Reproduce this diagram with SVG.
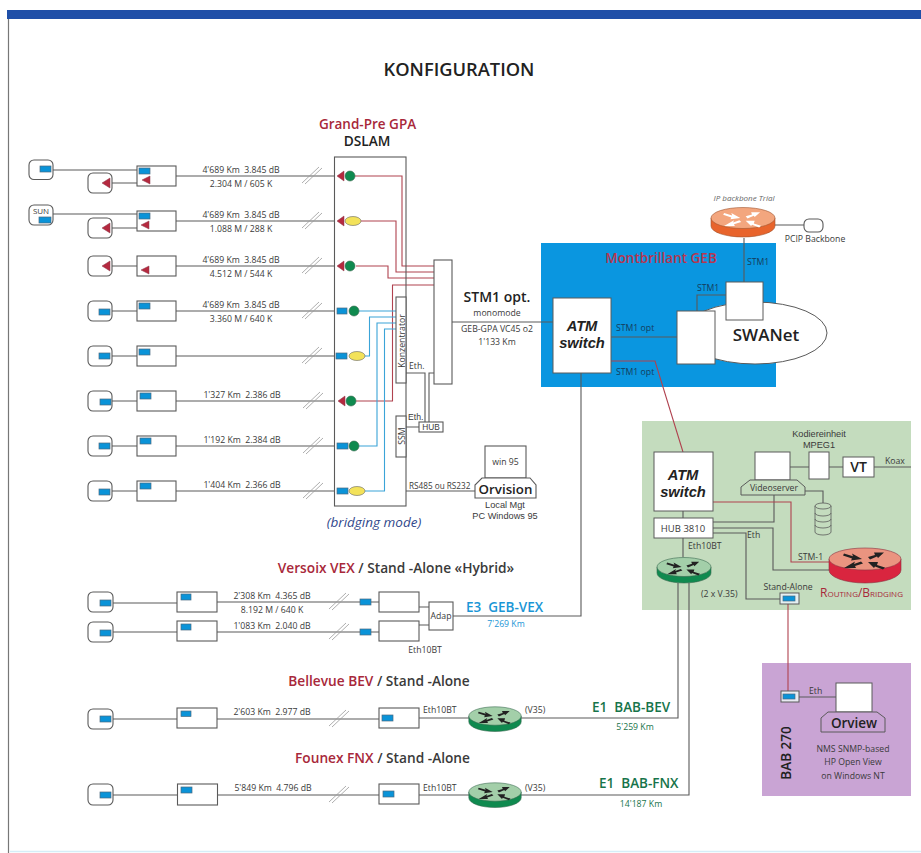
<svg xmlns="http://www.w3.org/2000/svg" width="921" height="853" viewBox="0 0 921 853">
<style>
text{font-family:"Open Sans","Noto Sans","Liberation Sans",sans-serif;fill:#3a3a3a;white-space:pre}
text.ls{font-family:"Liberation Sans",Arial,sans-serif}
.s{font-size:8.700px}
.m{text-anchor:middle}
.h{font-size:13.700px;font-weight:600}
.red{fill:#a8283a}
.b{fill:#fff;stroke:#5a5a5a;stroke-width:1.100}
.t{fill:#fff;stroke:#5a5a5a;stroke-width:1.100}
.bl{fill:#0a93d8;stroke:#4a6a80;stroke-width:.7}
.tri{fill:#b5293f;stroke:#8a3a4a;stroke-width:.5}
.gc{fill:#0f8a4f;stroke:#3a6a50;stroke-width:.6}
.ye{fill:#f3e25a;stroke:#666;stroke-width:.6}
.c{fill:none;stroke:#5a5a5a;stroke-width:1.100}
.cr{fill:none;stroke:#b0424f;stroke-width:1.100}
.cb{fill:none;stroke:#3aa4d8;stroke-width:1.100}
.sl{fill:none;stroke:#999;stroke-width:.8}
.atm{font-size:14.700px;font-weight:700;font-style:italic;fill:#222;text-anchor:middle}
</style>
<defs>
<g id="slash"><path class="sl" d="M0 7L17-9M3 8L20-8"/></g>
<g id="arrows"><path d="M-21-5.500L-12-2.800L-13-5.500L-3 0L-14 1.500L-13-.5L-22-3.500ZM3-2L10-4L9-6.500L19-6.500L13-1L12-2.500L5 .5ZM-4 2.500L-11 5L-10 2.500L-21 9L-9 9L-10 7L-2 4.500ZM20 8.500L12 6L13 3L3 3L9 9L10 7.500L18 10.500Z"/></g>
<g id="routerG"><path d="M-27 0V6A27 10 0 0 0 27 6V0Z" fill="#0f8a4f" stroke="#3a6a50" stroke-width=".6"/><ellipse rx="27" ry="9.500" fill="#a3cfa9" stroke="#3a6a50" stroke-width=".6"/><use href="#arrows" transform="scale(.8)" fill="#222"/></g>
</defs>

<g id="frame">
<rect x="7" y="10" width="914" height="9" fill="#1f4fa8"/>
<path d="M8.500 19V853" stroke="#777" stroke-width="1.200" fill="none"/>
<path d="M10 851.500H921" stroke="#d5eef8" stroke-width="1.500" fill="none"/>
</g>

<g id="panels">
<rect id="panel-geb" x="541" y="243" width="235" height="144" fill="#0a96e0"/>
<rect id="panel-green" x="642" y="421" width="269" height="189" fill="#c4dcbe"/>
<rect id="panel-bab" x="762" y="663" width="149" height="133" fill="#c9a4d4"/>
</g>

<g id="connectors">
<path class="c" d="M53 170H137M112 183H137M176 176H335"/>
<path class="c" d="M53 214H137M112 228H137M176 221H335"/>
<path class="c" d="M112 266H137M176 266H335"/>
<path class="c" d="M112 311H137M176 311H335"/>
<path class="c" d="M112 356H137M176 356H335"/>
<path class="c" d="M112 401H137M176 401H335"/>
<path class="c" d="M112 446H137M176 446H335"/>
<path class="c" d="M112 491H137M176 491H335"/>
<path class="cr" d="M355 176H402V266H434M361 221H396V272H434M356 266H388V278H434M356 401H392.500V285H434"/>
<path class="cb" d="M359 311H396M365 356H369.500V317H396M359 446H377V323H396M365 491H384.500V329H396"/>
<path class="c" d="M406 373H425V422M429 422V373H434M406 427H419M406 491H475M452 322H553"/>
<path class="c" d="M611 337H677M697 311V295H726M744 238V282M775 225H804"/>
<path class="c" d="M581 373V616H453M419 607H429M419 625H429"/>
<path class="cr" d="M611 361H655L683 452"/>
<path class="c" d="M683 511V518M683 538V557M790 467H809M829 467H843M874 467H911M805 491H823V503M774 495V522H713M713 528H773V570H829M713 533H746V599H780"/>
<path class="cr" d="M713 502H791V562H830"/>
<path class="cr" d="M788 604V691" stroke-width="1.300"/>
<path class="c" d="M799 697H836"/>
<path class="c" d="M678 583V718H521M689 583V795H521"/>
<path class="c" d="M113 603H177M217 602H360M371 602H379"/>
<path class="c" d="M113 632H177M217 632H360M371 632H379"/>
<path class="c" d="M113 719H177M217 719H379M419 718H469"/>
<path class="c" d="M113 795H177M217 795H379M419 795H469"/>
<use href="#slash" x="302" y="176"/><use href="#slash" x="302" y="221"/><use href="#slash" x="302" y="266"/><use href="#slash" x="302" y="311"/><use href="#slash" x="302" y="356"/><use href="#slash" x="303" y="401"/><use href="#slash" x="303" y="446"/><use href="#slash" x="303" y="491"/>
<use href="#slash" x="329" y="602"/><use href="#slash" x="329" y="632"/><use href="#slash" x="329" y="719"/><use href="#slash" x="329" y="795"/>
</g>

<g id="row1-a"><rect class="t" x="29" y="160" width="24" height="19.500" rx="5"/><rect class="bl" x="40" y="166" width="11" height="6"/></g>
<g id="row1-b"><rect class="t" x="88" y="173" width="24" height="20" rx="5"/><path class="tri" d="M102 183L110 178V188Z"/></g>
<g id="row1-box"><rect class="b" x="137" y="166" width="39" height="20"/><rect class="bl" x="139" y="168" width="11" height="6"/><path class="tri" d="M142 180L150 176V184Z"/></g>
<g id="row2-a"><rect class="t" x="29" y="205" width="24" height="20" rx="5"/><text x="41" y="213.500" class="m" style="font-size:8px">SUN</text><rect class="bl" x="39" y="217" width="12" height="6"/></g>
<g id="row2-b"><rect class="t" x="88" y="218" width="24" height="20" rx="5"/><path class="tri" d="M102 228L110 223V233Z"/></g>
<g id="row2-box"><rect class="b" x="137" y="211" width="39" height="20"/><rect class="bl" x="139" y="213" width="11" height="6"/><path class="tri" d="M141 225L149 221V229Z"/></g>
<g id="row3-b"><rect class="t" x="88" y="256" width="24" height="20" rx="5"/><path class="tri" d="M102 266L110 261V271Z"/></g>
<g id="row3-box"><rect class="b" x="137" y="256" width="39" height="20"/><path class="tri" d="M141 270L149 266V274Z"/></g>
<g id="row4-b"><rect class="t" x="88" y="301" width="24" height="20" rx="5"/><rect class="bl" x="99" y="309" width="11" height="6"/></g>
<g id="row4-box"><rect class="b" x="137" y="301" width="39" height="20"/><rect class="bl" x="139" y="303" width="11" height="6"/></g>
<g id="row5-b"><rect class="t" x="88" y="346" width="24" height="20" rx="5"/><rect class="bl" x="99" y="353" width="11" height="6"/></g>
<g id="row5-box"><rect class="b" x="137" y="346" width="39" height="20"/><rect class="bl" x="139" y="349" width="11" height="6"/></g>
<g id="row6-b"><rect class="t" x="88" y="391" width="24" height="20" rx="5"/><rect class="bl" x="100" y="399" width="11" height="6"/></g>
<g id="row6-box"><rect class="b" x="137" y="391" width="39" height="20"/><rect class="bl" x="140" y="393" width="11" height="6"/></g>
<g id="row7-b"><rect class="t" x="88" y="436" width="24" height="20" rx="5"/><rect class="bl" x="99" y="443" width="11" height="6"/></g>
<g id="row7-box"><rect class="b" x="137" y="436" width="39" height="20"/><rect class="bl" x="140" y="438" width="11" height="6"/></g>
<g id="row8-b"><rect class="t" x="88" y="481" width="24" height="20" rx="5"/><rect class="bl" x="99" y="489" width="11" height="6"/></g>
<g id="row8-box"><rect class="b" x="137" y="481" width="39" height="20"/><rect class="bl" x="140" y="483" width="11" height="6"/></g>

<g id="dslam">
<rect x="334.500" y="157" width="71.500" height="349" fill="none" stroke="#5a5a5a" stroke-width="1.100"/>
<path class="tri" d="M337 176L344 171V181Z"/><circle class="gc" cx="350" cy="176" r="5"/>
<path class="tri" d="M337 221L344 216V226Z"/><ellipse class="ye" cx="353" cy="221" rx="8" ry="4.500"/>
<path class="tri" d="M337 266L344 261V271Z"/><circle class="gc" cx="350" cy="266" r="5"/>
<rect class="bl" x="337" y="308" width="10" height="6"/><circle class="gc" cx="354" cy="311" r="5"/>
<rect class="bl" x="336" y="353" width="11" height="6"/><ellipse class="ye" cx="357" cy="356" rx="8" ry="4.500"/>
<path class="tri" d="M338 401L345 396V406Z"/><circle class="gc" cx="351" cy="401" r="5"/>
<rect class="bl" x="337" y="443" width="11" height="6"/><circle class="gc" cx="354" cy="446" r="5"/>
<rect class="bl" x="337" y="488" width="11" height="6"/><ellipse class="ye" cx="357" cy="491" rx="8" ry="4.500"/>
</g>
<g id="konzentrator"><rect class="b" x="396" y="297" width="10" height="86"/><text class="m" transform="translate(404.500 341) rotate(-90)" style="font-size:8.700px">Konzentrator</text></g>
<g id="ssm"><rect class="b" x="396" y="416" width="10" height="41"/><text class="s m" transform="translate(404.500 436) rotate(-90)">SSM</text></g>
<g id="mux"><rect class="b" x="434" y="260" width="18" height="124"/></g>
<g id="hub"><rect class="b" x="419" y="422" width="24" height="10"/><text class="m ls" x="431" y="430.300" style="font-size:8.300px">HUB</text></g>
<g id="orvision">
<rect class="b" x="485" y="446" width="41" height="32"/>
<text class="s m" x="505.500" y="465">win 95</text>
<path class="b" d="M482 478H530L536 485V498H475V485Z"/>
<text class="m" x="505.500" y="494" style="font-size:13.300px;font-weight:600;fill:#222">Orvision</text>
</g>

<g id="atm1"><rect x="553" y="298" width="58" height="75" fill="#fff" stroke="#5a5a5a"/><text class="atm ls" x="582" y="331">ATM</text><text class="atm ls" x="582" y="348">switch</text></g>
<g id="swanet"><ellipse cx="755" cy="333" rx="72" ry="31" fill="#fff" stroke="#5a5a5a"/><text class="m" x="766" y="341" style="font-size:17px;font-weight:600;fill:#222">SWANet</text></g>
<g id="geb-box1"><rect x="677" y="311" width="38" height="53" fill="#fff" stroke="#5a5a5a"/></g>
<g id="geb-box2"><rect x="726" y="282" width="37" height="38" fill="#fff" stroke="#5a5a5a"/></g>
<g id="router-ip"><path d="M-32 0V8A32 11 0 0 0 32 8V0Z" transform="translate(743 218)" fill="#e8642c" stroke="#a05530" stroke-width=".6"/><ellipse cx="743" cy="218" rx="32" ry="10.500" fill="#f3a67e" stroke="#a05530" stroke-width=".6"/><use href="#arrows" transform="translate(743 218) scale(.9)" fill="#fff"/></g>
<g id="pcip"><rect class="t" x="804" y="219" width="19" height="13" rx="5"/></g>

<g id="atm2"><rect x="654" y="452" width="59" height="59" fill="#fff" stroke="#5a5a5a"/><text class="atm ls" x="683" y="480">ATM</text><text class="atm ls" x="683" y="497">switch</text></g>
<g id="hub3810"><rect x="654" y="518" width="59" height="20" fill="#fff" stroke="#5a5a5a"/><text class="m" x="683" y="532" style="font-size:9.500px">HUB 3810</text></g>
<g id="router-green1"><use href="#routerG" transform="translate(684 567)"/></g>
<g id="videoserver"><rect x="755" y="452" width="35" height="28" fill="#fff" stroke="#5a5a5a"/><path d="M750 480H797L805 487V495H741V487Z" fill="#c4dcbe" stroke="#5a5a5a"/><text class="s m" x="774" y="491">Videoserver</text></g>
<g id="kodier"><rect x="809" y="452" width="20" height="27" fill="#fff" stroke="#5a5a5a"/></g>
<g id="vt"><rect x="843" y="457" width="31" height="20" fill="#fff" stroke="#5a5a5a"/><text class="m" x="858.500" y="472" style="font-size:14px;font-weight:600;fill:#222">VT</text></g>
<g id="disk" fill="#c4dcbe" stroke="#5a5a5a" stroke-width=".8"><path d="M815 506V532A8 3 0 0 0 831 532V506Z"/><ellipse cx="823" cy="506" rx="8" ry="3"/><path d="M815 513A8 3 0 0 0 831 513M815 519A8 3 0 0 0 831 519M815 525A8 3 0 0 0 831 525" fill="none"/></g>
<g id="router-red"><path d="M829 559V570A36 13 0 0 0 901 570V559Z" fill="#d9253f" stroke="#8a3040" stroke-width=".6"/><ellipse cx="865" cy="559" rx="36" ry="11" fill="#ea9480" stroke="#8a3040" stroke-width=".6"/><use href="#arrows" transform="translate(865 559)" fill="#222"/></g>
<g id="standalone"><rect x="780" y="593" width="19" height="11" fill="#e4f0f2" stroke="#5a5a5a"/><rect class="bl" x="783" y="596" width="12" height="5"/></g>
<g id="bab-box"><rect x="781" y="691" width="18" height="11" fill="#e8eaf2" stroke="#5a5a5a"/><rect class="bl" x="783" y="694" width="12" height="5"/></g>
<g id="orview"><rect x="836" y="683" width="36" height="29" fill="#fff" stroke="#5a5a5a"/><path d="M828 712H877L885 718V732H821V718Z" fill="#c9a4d4" stroke="#5a5a5a"/><text class="m" x="854" y="728" style="font-size:13.500px;font-weight:600;fill:#222">Orview</text></g>

<g id="vex1-a"><rect class="t" x="88" y="592" width="25" height="20" rx="5"/><rect class="bl" x="100" y="600" width="11" height="6"/></g>
<g id="vex1-box"><rect class="b" x="177" y="592" width="40" height="20"/><rect class="bl" x="181" y="594" width="10" height="6"/></g>
<g id="vex1-c"><rect class="bl" x="360" y="599" width="11" height="6"/><rect class="b" x="379" y="592" width="40" height="20"/></g>
<g id="vex2-a"><rect class="t" x="88" y="622" width="25" height="20" rx="5"/><rect class="bl" x="100" y="630" width="11" height="6"/></g>
<g id="vex2-box"><rect class="b" x="177" y="621" width="40" height="20"/><rect class="bl" x="181" y="624" width="10" height="6"/></g>
<g id="vex2-c"><rect class="bl" x="360" y="629" width="11" height="6"/><rect class="b" x="379" y="621" width="40" height="20"/></g>
<g id="adap"><rect class="b" x="429" y="602" width="24" height="28"/><text class="s m" x="441" y="619">Adap</text></g>
<g id="bev-a"><rect class="t" x="88" y="709" width="25" height="20" rx="5"/><rect class="bl" x="100" y="716" width="11" height="6"/></g>
<g id="bev-box"><rect class="b" x="177" y="708" width="40" height="20"/><rect class="bl" x="181" y="711" width="10" height="5.500"/></g>
<g id="bev-c"><rect class="b" x="379" y="708" width="40" height="20"/><rect class="bl" x="382" y="715" width="11" height="6"/></g>
<g id="bev-router"><use href="#routerG" transform="translate(495 716) scale(.97)"/></g>
<g id="fnx-a"><rect class="t" x="88" y="784" width="25" height="21" rx="5"/><rect class="bl" x="100" y="792" width="11" height="6"/></g>
<g id="fnx-box"><rect class="b" x="177.500" y="784" width="40" height="21"/><rect class="bl" x="181" y="787" width="11" height="6"/></g>
<g id="fnx-c"><rect class="b" x="379" y="784" width="40" height="20"/><rect class="bl" x="383" y="791" width="11" height="6"/></g>
<g id="fnx-router"><use href="#routerG" transform="translate(495 792) scale(.97)"/></g>

<g id="labels">
<text class="m" x="459" y="76" style="font-size:18.300px;font-weight:600;fill:#222">KONFIGURATION</text>
<text class="m h red" x="367.500" y="129" style="font-size:13.500px">Grand-Pre GPA</text>
<text class="m h" x="367" y="146" style="fill:#222">DSLAM</text>
<text class="s m" x="241" y="172.500">4'689 Km  3.845 dB</text><text class="s m" x="241" y="186.500">2.304 M / 605 K</text>
<text class="s m" x="241" y="217.500">4'689 Km  3.845 dB</text><text class="s m" x="241" y="231.500">1.088 M / 288 K</text>
<text class="s m" x="241" y="262.500">4'689 Km  3.845 dB</text><text class="s m" x="241" y="276.500">4.512 M / 544 K</text>
<text class="s m" x="241" y="307.500">4'689 Km  3.845 dB</text><text class="s m" x="241" y="321.500">3.360 M / 640 K</text>
<text class="s m" x="242" y="397.500">1'327 Km  2.386 dB</text>
<text class="s m" x="242" y="442.500">1'192 Km  2.384 dB</text>
<text class="s m" x="242" y="487.500">1'404 Km  2.366 dB</text>
<text class="s" x="409" y="369">Eth.</text><text class="ls" x="408" y="419.500" style="font-size:8.700px">Eth.</text>
<text class="s" x="409" y="489" style="font-size:8.200px">RS485 ou RS232</text>
<text class="m ls" x="505" y="507.500" style="font-size:9.200px">Local Mgt</text><text class="m ls" x="505" y="518.500" style="font-size:9.200px">PC Windows 95</text>
<text class="m" x="374" y="527" style="font-size:13.500px;font-style:italic;fill:#31488c">(bridging mode)</text>
<text class="m h" x="497" y="302" style="font-size:14px;fill:#222">STM1 opt.</text>
<text class="s m" x="497" y="316">monomode</text>
<text class="s m" x="497" y="332">GEB-GPA VC45 o2</text>
<text class="s m" x="497" y="345">1'133 Km</text>
<text class="m" x="661" y="263" style="font-size:13.500px;font-weight:600;fill:#b8354e">Montbrillant GEB</text>
<text class="s" x="616" y="331" style="fill:#143c5c">STM1 opt</text>
<text class="s" x="616" y="375" style="fill:#143c5c">STM1 opt</text>
<text class="s" x="697" y="291" style="fill:#143c5c">STM1</text>
<text class="s" x="747" y="265" style="fill:#143c5c">STM1</text>
<text class="m" x="744" y="201" style="font-size:8px;font-style:italic;fill:#666">IP backbone Trial</text>
<text class="s m" x="815" y="242">PCIP Backbone</text>
<text class="m ls" x="819" y="436.500" style="font-size:9.200px">Kodiereinheit</text><text class="m ls" x="819" y="447.500" style="font-size:9.200px">MPEG1</text>
<text class="s" x="885" y="464">Koax</text>
<text class="s" x="688" y="549">Eth10BT</text>
<text class="s" x="747" y="538">Eth</text>
<text class="s" x="798" y="560">STM-1</text>
<text class="s m" x="788" y="590">Stand-Alone</text>
<text class="s" x="701" y="597">(2 x V.35)</text>
<text x="820" y="597" style="font-size:12px;font-variant:small-caps;fill:#a8283a">Routing/Bridging</text>
<text class="s" x="809" y="694">Eth</text>
<text class="s m" x="853" y="752">NMS SNMP-based</text><text class="s m" x="853" y="765">HP Open View</text><text class="s m" x="853" y="779">on Windows NT</text>
<text class="m" transform="translate(791 753) rotate(-90)" style="font-size:13.500px;font-weight:600;fill:#222">BAB 270</text>
<text class="m h" x="396" y="573"><tspan class="red">Versoix VEX</tspan> / Stand -Alone «Hybrid»</text>
<text class="s m" x="272" y="599">2'308 Km  4.365 dB</text><text class="s m" x="272" y="613">8.192 M / 640 K</text>
<text class="s m" x="272" y="629">1'083 Km  2.040 dB</text>
<text class="s m" x="425" y="653">Eth10BT</text>
<text x="466" y="612" style="font-size:13.500px;font-weight:600;fill:#1a96d6">E3  GEB-VEX</text>
<text class="s m" x="506" y="627" style="fill:#1a96d6">7'269 Km</text>
<text class="m h" x="379" y="686"><tspan class="red">Bellevue BEV</tspan> / Stand -Alone</text>
<text class="s m" x="272" y="715">2'603 Km  2.977 dB</text>
<text class="s" x="423" y="713">Eth10BT</text><text class="s" x="525" y="713">(V35)</text>
<text x="592" y="712" style="font-size:13.500px;font-weight:600;fill:#17744a">E1  BAB-BEV</text>
<text class="s m" x="635" y="730" style="fill:#17744a">5'259 Km</text>
<text class="m h" x="382.500" y="763"><tspan class="red">Founex FNX</tspan> / Stand -Alone</text>
<text class="s m" x="273" y="791">5'849 Km  4.796 dB</text>
<text class="s" x="423" y="791">Eth10BT</text><text class="s" x="525" y="791">(V35)</text>
<text x="599" y="788" style="font-size:13.500px;font-weight:600;fill:#17744a">E1  BAB-FNX</text>
<text class="s m" x="641" y="807" style="fill:#17744a">14'187 Km</text>
</g>
</svg>
